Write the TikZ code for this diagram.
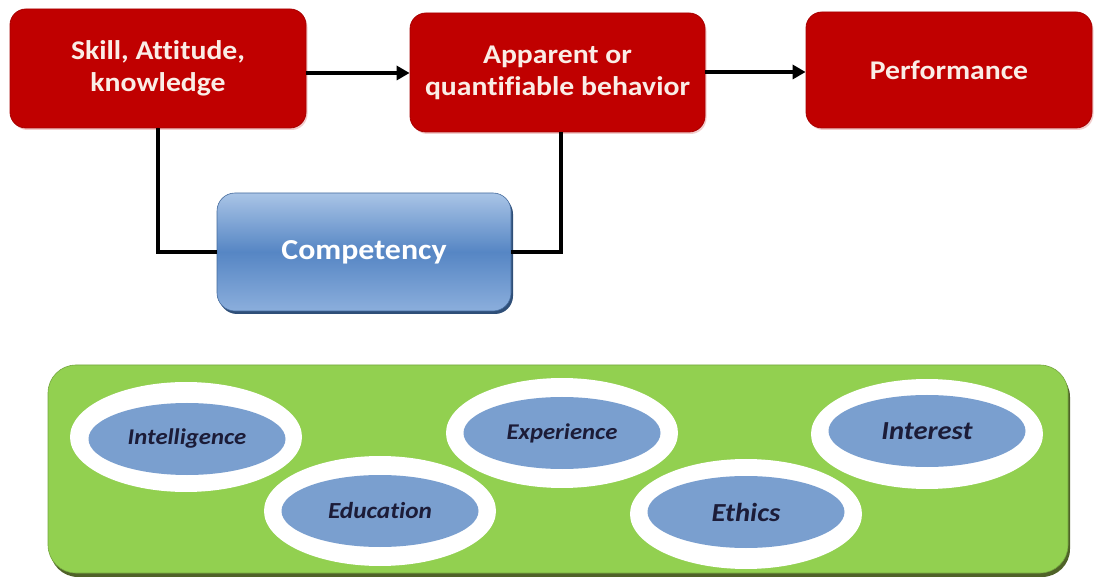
\documentclass[tikz,border=0pt]{standalone}
\usepackage{fontspec}
\setmainfont[FakeStretch=1.1,Ligatures=NoCommon]{Carlito}
\usetikzlibrary{shapes.geometric,arrows.meta,shadows}
\definecolor{boxred}{HTML}{C00000}
\definecolor{boxredline}{HTML}{A80000}
\definecolor{boxtext}{HTML}{FAEDE6}
\definecolor{compmid}{HTML}{5686C4}
\definecolor{comptop}{HTML}{A9C4E6}
\definecolor{compbot}{HTML}{8BAEDC}
\definecolor{compshadow}{HTML}{2F4F78}
\definecolor{panelgreen}{HTML}{92D050}
\definecolor{panelshadow}{HTML}{4F6228}
\definecolor{ovalblue}{HTML}{7A9FCF}
\definecolor{ovaltext}{HTML}{1C1C38}
\tikzset{
  redbox/.style={rectangle, rounded corners=16pt, fill=boxred, draw=boxredline, line width=0.8pt,
    text=boxtext, font=\bfseries\fontsize{27}{32}\selectfont, align=center,
    drop shadow={shadow xshift=1.5pt, shadow yshift=-2pt, fill=boxred!25, opacity=0.8}},
  compbox/.style={rectangle, rounded corners=18pt, top color=comptop, bottom color=compbot,
    middle color=compmid, draw=compmid!80!black, line width=0.6pt, text=white,
    font=\bfseries\fontsize{29}{34}\selectfont,
    drop shadow={shadow xshift=2pt, shadow yshift=-3pt, fill=compshadow, opacity=1}},
  panel/.style={rectangle, rounded corners=28pt, fill=panelgreen, draw=panelgreen!80!black, line width=0.6pt,
    drop shadow={shadow xshift=2pt, shadow yshift=-4pt, fill=panelshadow, opacity=1}},
  ring/.style={ellipse, fill=white, draw=none, inner sep=0pt, minimum width=232pt, minimum height=110pt},
  oval/.style={ellipse, fill=ovalblue, draw=none, inner sep=0pt, minimum width=197pt, minimum height=72pt,
    text=ovaltext, font=\bfseries\itshape\fontsize{22.5}{26}\selectfont},
  bigoval/.style={oval, font=\bfseries\itshape\fontsize{26}{30}\selectfont},
  link/.style={line width=4pt, black},
  flow/.style={link, -{Triangle[length=13pt,width=14pt]}}
}
\begin{document}
\begin{tikzpicture}[x=1pt,y=-1pt]
\useasboundingbox (0,0) rectangle (1096,577);

% top row of process boxes
\node[redbox, minimum width=296pt, minimum height=119pt] (skill) at (158,68.5) {Skill, Attitude,\\knowledge};
\node[redbox, minimum width=295pt, minimum height=119pt] (behav) at (557.5,72.5) {Apparent or\\quantifiable behavior};
\node[redbox, minimum width=286pt, minimum height=116pt] (perf) at (949,70) {Performance};

% competency box
\node[compbox, minimum width=294pt, minimum height=118pt] (comp) at (364,252) {Competency};

% connectors
\draw[flow] (skill.east |- 0,73) coordinate (a1) -- (behav.west |- a1);
\draw[flow] (behav.east |- 0,72) coordinate (a2) -- (perf.west |- a2);
\draw[link] (skill.south) |- (comp.west);
\draw[link] (comp.east) -| ([xshift=3.5pt]behav.south);

% factor panel
\node[panel, minimum width=1020pt, minimum height=208pt] (base) at (558,469) {};

\node[ring] (r1) at (186,437) {};
\node[oval] (intel) at (187,439) {Intelligence};
\node[ring] (r2) at (380,511) {};
\node[oval, font=\bfseries\itshape\fontsize{23}{27}\selectfont] (edu) at (380,511) {Education};
\node[ring] (r3) at (562,433) {};
\node[oval] (exp) at (562,433) {Experience};
\node[ring] (r4) at (746,514) {};
\node[bigoval] (eth) at (746,512) {Ethics};
\node[ring] (r5) at (927,434) {};
\node[bigoval] (int) at (927,431) {Interest};
\end{tikzpicture}
\end{document}
